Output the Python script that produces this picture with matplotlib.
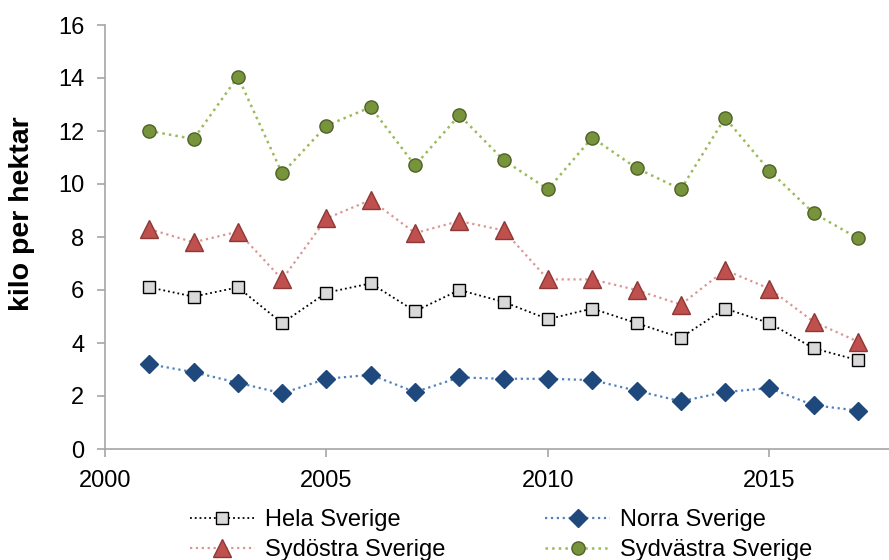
import matplotlib
matplotlib.use("Agg")
import matplotlib.pyplot as plt

plt.rcParams['font.family'] = ['Liberation Sans', 'DejaVu Sans']

years = list(range(2001, 2018))
hela = [6.1, 5.75, 6.1, 4.75, 5.9, 6.25, 5.2, 6.0, 5.55, 4.9, 5.3, 4.75, 4.2, 5.3, 4.75, 3.8, 3.35]
norra = [3.2, 2.9, 2.5, 2.1, 2.65, 2.8, 2.15, 2.7, 2.65, 2.65, 2.6, 2.2, 1.8, 2.15, 2.3, 1.65, 1.45]
sydostra = [8.3, 7.8, 8.2, 6.4, 8.7, 9.4, 8.15, 8.6, 8.25, 6.4, 6.4, 6.0, 5.45, 6.75, 6.05, 4.8, 4.05]
sydvastra = [12.0, 11.7, 14.05, 10.4, 12.2, 12.9, 10.7, 12.6, 10.9, 9.8, 11.75, 10.6, 9.8, 12.5, 10.5, 8.9, 7.95]
labels = ["Hela Sverige", "Norra Sverige", "Sydöstra Sverige", "Sydvästra Sverige"]
xticks = [2000, 2005, 2010, 2015]
yticks = [0, 2, 4, 6, 8, 10, 12, 14, 16]

fig = plt.figure(figsize=(8.89, 5.6), dpi=100)
ax = fig.add_axes([105/889, 1-449/560, 1-105/889, (449-25)/560])

h1, = ax.plot(years, hela, linestyle=':', color='#000000', lw=1.3, marker='s', ms=9,
              mfc='#D9D9D9', mec='#000000', mew=1.0, label=labels[0])
h2, = ax.plot(years, norra, linestyle=':', color='#4F81BD', lw=1.6, marker='D', ms=9.5,
              mfc='#1F497D', mec='#1F497D', mew=1.0, label=labels[1])
h3, = ax.plot(years, sydostra, linestyle=':', color='#D99694', lw=1.6, marker='^', ms=12.5,
              mfc='#C0504D', mec='#8C3836', mew=1.0, label=labels[2])
h4, = ax.plot(years, sydvastra, linestyle=':', color='#9BBB59', lw=1.8, marker='o', ms=9.5,
              mfc='#77933C', mec='#4F6228', mew=1.0, label=labels[3])

ax.set_xlim(2000, 2017.7)
ax.set_ylim(0, 16)
ax.set_xticks(xticks)
ax.set_yticks(yticks)
for s in ['top', 'right']:
    ax.spines[s].set_visible(False)
for s in ['left', 'bottom']:
    ax.spines[s].set_color('#A6A6A6')
    ax.spines[s].set_linewidth(1.2)
ax.tick_params(axis='both', direction='out', length=5.5, width=1.2, color='#A6A6A6',
               labelsize=17)
ax.tick_params(axis='y', pad=9.5)
ax.tick_params(axis='x', pad=9.5)
ax.set_ylabel("kilo per hektar", fontsize=20.5, fontweight='bold')
ax.yaxis.set_label_coords(-0.089, 0.556)

fig.legend([h1, h3, h2, h4], [labels[0], labels[2], labels[1], labels[3]],
           loc='upper left', bbox_to_anchor=(190/889, 1-509/560), ncol=2,
           frameon=False, fontsize=17, handlelength=2.75, columnspacing=4.24,
           handletextpad=0.42, labelspacing=0.34, borderaxespad=0, borderpad=0)

fig.savefig("out.png", dpi=100)
